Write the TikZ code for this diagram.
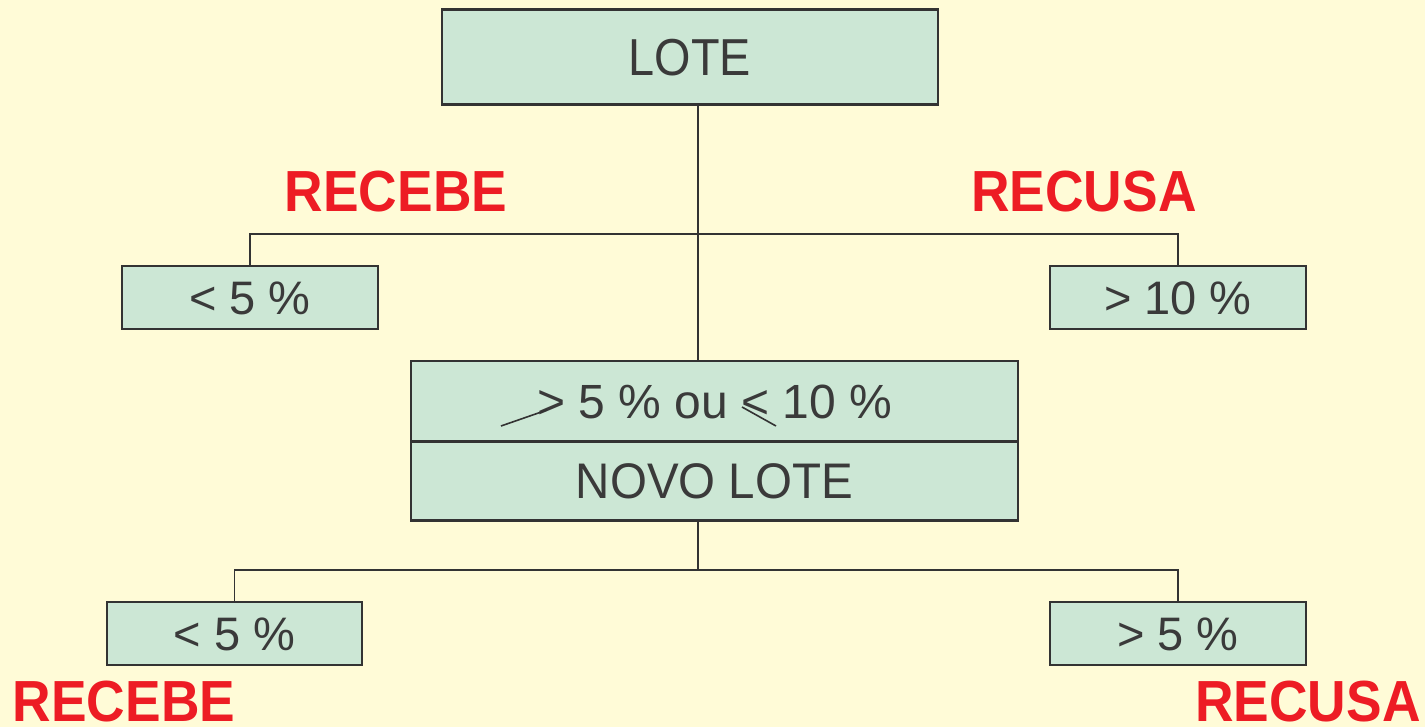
\documentclass[tikz,border=0pt]{standalone}
\usepackage{fontspec}
\setmainfont{Liberation Sans}
\newfontfamily\condA{Liberation Sans}[FakeStretch=0.9]
\newfontfamily\condB{Liberation Sans}[FakeStretch=0.95]
\newfontfamily\condR{Liberation Sans}[FakeStretch=0.92]
\definecolor{bgc}{HTML}{FFFBD7}
\definecolor{boxc}{HTML}{CCE7D5}
\definecolor{edgec}{HTML}{333333}
\definecolor{txtc}{HTML}{3A3A3A}
\definecolor{redc}{HTML}{ED1C24}
\tikzset{
  boxnode/.style={draw=edgec, line width=2.4pt, fill=boxc, text=txtc, inner sep=0pt,
     text depth=0pt, anchor=center},
  conn/.style={draw=edgec, line width=1.4pt},
  verdict/.style={text=redc, font=\condR\fontsize{58}{58}\selectfont\bfseries, anchor=base, inner sep=0pt},
}
\begin{document}
\begin{tikzpicture}[x=1pt,y=-1pt]
\fill[bgc] (0,0) rectangle (1425,727);
\useasboundingbox (0,0) rectangle (1425,727);
% boxes
\node[boxnode, minimum width=496pt, minimum height=95pt, text height=37.2pt, font=\condA\fontsize{52}{52}\selectfont] (lote) at (690,57) {LOTE};
\node[boxnode, minimum width=256pt, minimum height=63pt, text height=33.6pt, font=\fontsize{47}{47}\selectfont] (l1) at (250,297.5) {< 5 \%};
\node[boxnode, minimum width=256pt, minimum height=63pt, text height=33.6pt, font=\fontsize{47}{47}\selectfont] (r1) at (1178,297.5) {> 10 \%};
\node[boxnode, minimum width=607pt, minimum height=80pt, text height=34.4pt, font=\fontsize{48}{48}\selectfont] (mid1) at (714.5,401) {> 5 \% ou < 10 \%};
\node[boxnode, minimum width=607pt, minimum height=79pt, text height=35.8pt, font=\condB\fontsize{50}{50}\selectfont] (mid2) at (714.5,481) {NOVO LOTE};
\node[boxnode, minimum width=255pt, minimum height=63pt, text height=33.6pt, font=\fontsize{47}{47}\selectfont] (l2) at (234.5,633.5) {< 5 \%};
\node[boxnode, minimum width=256pt, minimum height=63pt, text height=33.6pt, font=\fontsize{47}{47}\selectfont] (r2) at (1178,633.5) {> 5 \%};
% verdict labels
\node[verdict] (rec1) at (396,212) {RECEBE};
\node[verdict] (rcu1) at (1084,212) {RECUSA};
\node[verdict] (rec2) at (124,721) {RECEBE};
\node[verdict] (rcu2) at (1308,721) {RECUSA};
% connectors
\coordinate (j1) at (698,234);
\coordinate (j2) at (698,570);
\draw[conn] (lote.south -| j1) -- (j1) -- (mid1.north -| j1);
\draw[conn] (l1.north) |- (j1) -| (r1.north);
\draw[conn] (mid2.south -| j2) -- (j2);
\draw[conn] (l2.north) |- (j2) -| (r2.north);
% hand-drawn strokes under > and <
\draw[edgec, line width=1.6pt] (501,426) -- (547,410);
\draw[edgec, line width=1.6pt] (742,407) -- (776,426);
\end{tikzpicture}
\end{document}
